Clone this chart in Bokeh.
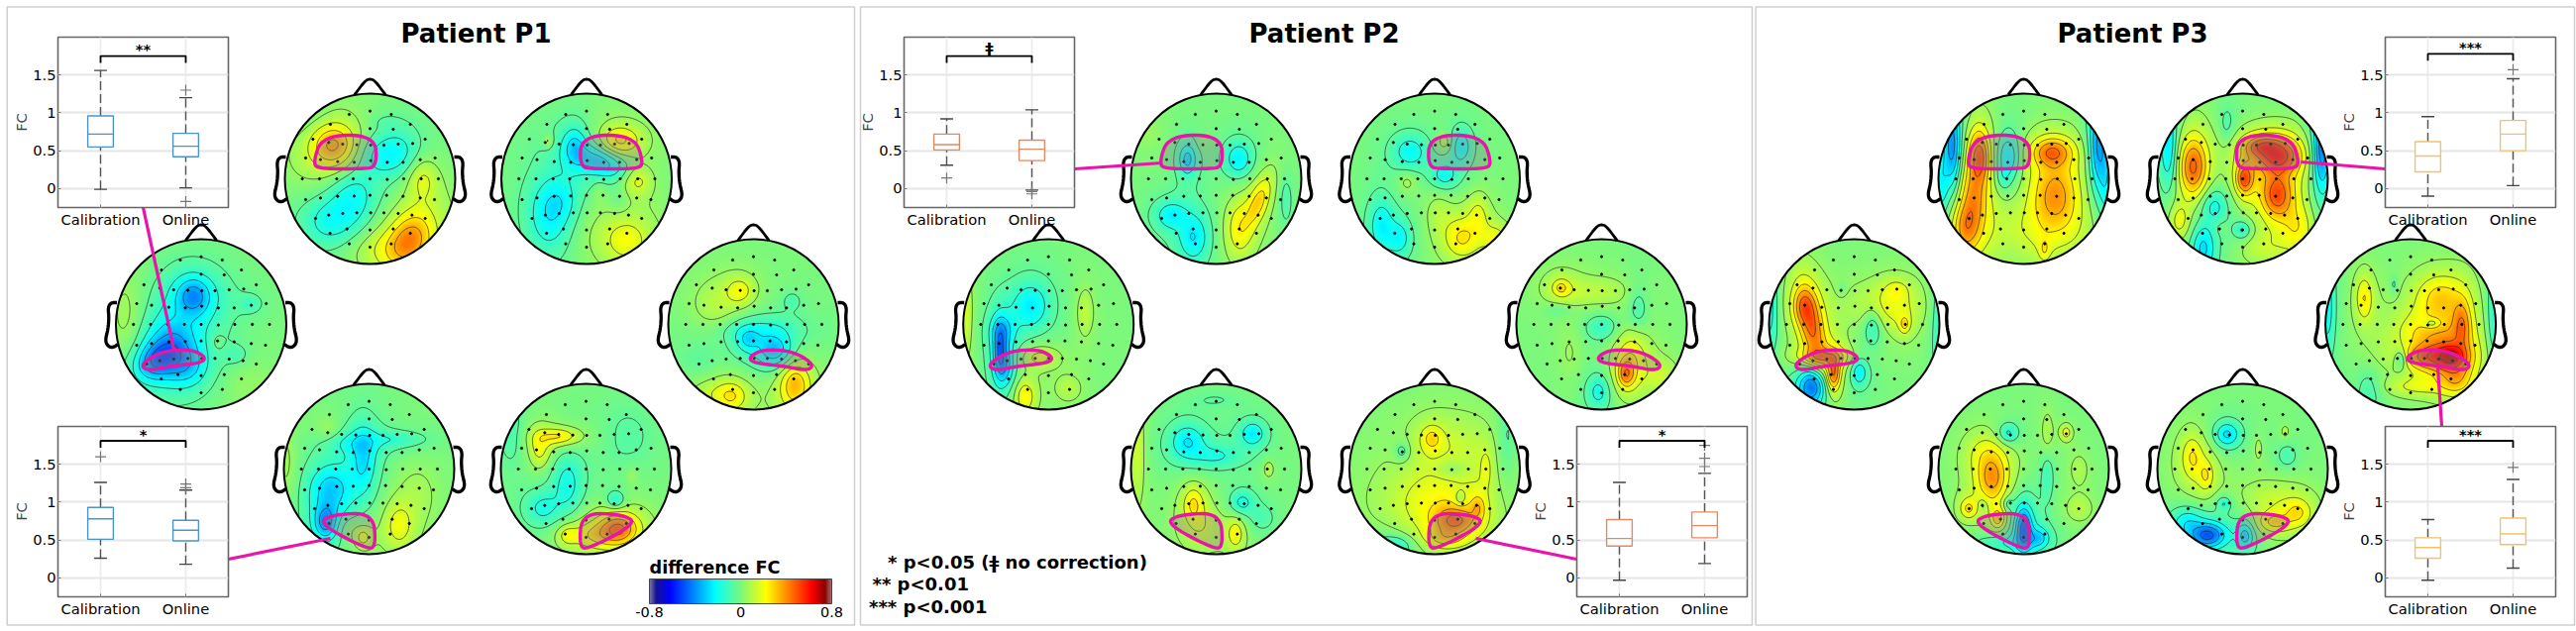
import numpy as np
from bokeh.plotting import figure
from bokeh.embed import file_html
from bokeh.resources import INLINE
from bokeh.models import (Range1d, LinearColorMapper, FixedTicker, ColorBar)

FONT = "DejaVu Sans"
CATS = ["Calibration", "Online"]
PATIENTS = ["Patient P1", "Patient P2", "Patient P3"]
TICKS = [0, 0.5, 1, 1.5]
LEGEND_LINES = ["* p<0.05 (\u01c2 no correction)", "** p<0.01", "*** p<0.001"]

# box stats: low whisker, q1, median, q3, high whisker
P1T_BOX = [[-0.01, 0.55, 0.72, 0.96, 1.56], [0.01, 0.42, 0.56, 0.73, 1.20]]
P1T_OUT = [[], [1.30, -0.17]]
P1B_BOX = [[0.26, 0.51, 0.78, 0.93, 1.26], [0.18, 0.49, 0.63, 0.76, 1.16]]
P1B_OUT = [[1.60], [1.24, 1.19]]
P2T_BOX = [[0.31, 0.51, 0.58, 0.72, 0.92], [-0.02, 0.37, 0.52, 0.64, 1.04]]
P2T_OUT = [[0.14], [-0.04, -0.07]]
P2B_BOX = [[-0.03, 0.42, 0.52, 0.77, 1.26], [0.19, 0.53, 0.69, 0.87, 1.38]]
P2B_OUT = [[], [1.75, 1.58, 1.47]]
P3T_BOX = [[-0.10, 0.22, 0.43, 0.62, 0.95], [0.04, 0.50, 0.72, 0.90, 1.45]]
P3T_OUT = [[], [1.57]]
P3B_BOX = [[-0.03, 0.26, 0.40, 0.53, 0.77], [0.13, 0.44, 0.58, 0.79, 1.30]]
P3B_OUT = [[], [1.46]]

# topography features, one list per scalp map:
# (dx, dy, FC difference, spread x, spread y[, angle]) in pixels from the head centre
P1_A = [(-37,-34,.42,14,13),(-45,-5,.08,25,30),(12,-24,-.2,18,13),(30,-30,-.1,12,14),(53,0,.18,9,13),
        (-40,43,-.22,18,16),(-18,17,-.2,14,16),(40,62,.42,12,17,25),(15,70,.12,25,12),(-62,-63,-.08,15,20),
        (15,-58,-.04,8,4)]
P1_B = [(33,-38,.32,12,9),(16,-17,-.35,17,9,20),(-12,-33,-.22,7,12),(51,2,.22,9,9),(-37,37,-.25,13,22),
        (-25,23,-.1,10,12),(41,63,.17,12,12),(13,13,.05,4,7),(-39,-38,.12,3,4),(33,23,-.06,6,8),(20,55,.07,30,20)]
P1_C = [(-8,-29,-.33,10,11),(-5,-26,-.1,20,16),(50,-21,-.1,6,5),(-44,36,-.42,14,10,-30),(-30,20,-.25,15,18),
        (-14,43,-.2,12,12),(-75,0,.1,10,30),(36,31,-.08,7,6),(17,18,.08,3,4),(47,60,.05,15,15)]
P1_D = [(-14,-34,.2,8,8),(-39,-17,.1,14,16),(39,-24,-.08,5,5),(22,27,-.35,11,10),(-6,16,-.2,7,7),(5,5,-.12,25,8),
        (42,61,.38,9,14),(-22,73,.22,9,9),(-39,70,.1,15,8),(-55,36,-.06,12,10)]
P1_E = [(-6,-10,-.25,8,20),(-39,20,-.28,13,15),(-44,54,-.4,7,10),(28,-30,-.12,18,5),(-17,-26,-.1,15,6),
        (30,57,.2,9,14),(-6,69,.2,5,6),(-22,60,.08,8,8),(50,24,.06,12,18),(-83,-3,.08,6,25),(-42,-41,.08,7,7)]
P1_F = [(-28,-33,.28,12,5),(-47,-20,.2,6,11),(-19,14,-.18,9,18),(-44,40,-.17,10,10),(30,32,-.2,5,5),
        (33,60,.5,11,9),(8,67,.2,14,8),(-19,67,.18,6,6),(42,-33,-.07,15,18),(-75,-36,-.1,8,18),(47,7,.06,3,5)]
P2_A = [(23,-20,-.25,8,10),(-29,-20,-.3,5,9),(-12,-37,.05,4,4),(43,23,.3,6,16,20),(23,50,.2,8,16),
        (-23,60,-.25,9,14),(-46,37,-.22,9,8),(70,20,-.1,4,15),(-69,-47,.05,8,10)]
P2_B = [(-25,-27,-.22,10,10),(27,-33,-.22,6,10),(10,-3,-.2,8,8),(10,-37,.15,4,5),(-28,3,.1,6,7),(27,60,.25,10,12),
        (44,37,.15,6,12),(4,33,.08,8,15),(62,60,.18,8,8),(-54,47,-.22,7,15),(-36,60,-.2,7,10)]
P2_C = [(-18,-19,-.25,11,14),(-47,6,-.2,7,9),(-49,26,-.4,4,15),(-44,43,-.25,6,12),(37,-12,.12,5,14),(-24,73,.25,6,10),
        (20,65,.1,8,8),(-9,33,.2,10,6),(-84,-10,.15,4,25)]
P2_D = [(-41,-37,.2,4,4),(-41,-37,.08,12,12),(-3,-33,.1,22,9),(-44,-15,-.08,8,4),(37,-17,-.12,6,14),(0,3,-.15,10,8),
        (-3,68,-.2,7,10),(25,50,.42,5,8),(31,30,.2,10,16),(60,53,.12,10,10),(-32,27,.06,7,18)]
P2_E = [(-29,-28,-.25,10,10),(37,-36,-.25,7,7),(0,-13,-.15,15,7),(-23,35,.25,6,10),(-14,60,.12,13,14),(20,65,.22,5,9),
        (26,34,-.2,7,7),(46,50,-.08,8,8),(53,0,.12,3,5),(-80,-20,.15,4,30),(0,-70,-.05,15,5)]
P2_F = [(-3,-31,.22,6,7),(21,-13,.12,28,25),(-33,-18,-.15,4,5),(18,0,-.12,9,6),(26,30,-.15,3,4),(44,39,.2,4,7),
        (21,52,.42,12,8),(10,70,.2,12,6),(-2,33,.15,30,20),(-42,77,-.2,12,6),(73,-26,-.1,6,25),(52,0,.12,3,10)]
P3_A = [(-72,-33,-.45,5,25),(75,-33,-.4,5,25),(-83,7,-.2,4,20),(83,0,-.2,4,25),(-45,-23,.55,6,15),(-51,20,.3,8,20),
        (-59,50,.35,8,15),(-16,-23,-.3,7,13),(-21,0,-.12,5,8),(29,-27,.45,11,8),(32,17,.4,14,20),(16,53,.1,40,18),
        (21,72,.15,3,6)]
P3_B = [(-75,-33,-.3,5,25),(80,-30,-.5,5,25),(-50,-12,.55,8,17),(37,-23,.65,12,10),(19,-33,.45,10,6),(2,0,.55,5,9),
        (35,17,.55,9,13),(-16,-53,-.1,5,12),(-64,43,.2,6,10),(-40,70,-.3,7,14),(-29,27,-.2,8,10),(0,52,-.2,5,5),
        (-21,50,.05,4,4),(56,50,.2,10,15),(20,70,.1,15,10)]
P3_C = [(-85,-20,-.2,4,30),(85,0,-.15,4,30),(-43,3,.5,7,22,-10),(-51,-19,.3,6,10),(32,-17,.2,20,15),(43,-35,.12,7,6),
        (51,0,.22,3,5),(19,1,-.2,6,12),(5,48,-.25,5,8),(-21,50,.5,4,10),(-32,33,.35,14,5),(-43,63,-.55,8,11),
        (-13,-37,-.08,2,3)]
P3_D = [(-84,-17,-.22,4,25),(84,-10,-.18,4,30),(-47,-27,.25,5,13),(30,-27,.28,14,14),(22,7,.25,20,12),(22,-1,-.22,5,3),
        (41,33,.6,8,7),(20,33,.5,16,7),(52,0,.35,5,14),(-10,35,-.25,4,6),(4,63,.15,20,6),(46,56,.25,10,10),
        (-42,65,-.12,8,12),(-17,-40,-.1,2,5)]
P3_E = [(-32,10,.4,9,14),(-37,-16,.15,12,12),(-16,-36,-.22,6,6),(43,-37,.22,3,4),(-56,40,.25,5,6),(-41,37,-.12,2,3),
        (-26,50,.3,4,6),(0,60,-.55,5,13),(-21,74,-.15,15,5),(16,70,-.25,6,6),(-16,35,-.15,3,4),(24,7,-.12,4,16),
        (56,40,.1,8,8),(56,0,.08,6,10),(24,-36,.1,4,14)]
P3_F = [(-16,-35,-.3,7,7),(-51,-13,.2,6,12),(-37,7,.18,4,8),(-45,0,.08,15,22),(-35,67,-.55,10,7),(-56,54,-.2,9,9),
        (-19,35,-.18,4,4),(3,67,-.3,5,8),(32,54,.25,10,6),(56,44,.22,8,8),(30,30,.1,20,12),(43,-38,.12,2,3),
        (16,-21,.1,2,6),(45,-13,-.1,6,7)]
MAPS = [[P1_A, P1_B, P1_C, P1_D, P1_E, P1_F], [P2_A, P2_B, P2_C, P2_D, P2_E, P2_F], [P3_A, P3_B, P3_C, P3_D, P3_E, P3_F]]
SPREAD = 1.1
HALO_WEIGHT = .3
HALO_SIZE = 2.0

# layout (pixels of the reference)
HEAD_X = [[373, 591.5, 202.5, 760, 372, 591], [1227, 1447.5, 1057.7, 1616, 1227, 1447.5], [2042, 2263, 1871, 2432.6, 2042, 2263]]
HEAD_Y = [180, 180, 327, 327, 473, 473]
R = 86
W, H = 2600, 637
def U(y):
    return H - np.asarray(y, dtype=float)

ELECTRODES = [(245,135),(308,125),(372,135),(188,165),(308,178),(378,180),(430,165),
 (135,210),(183,220),(225,225),(268,227),(310,228),(350,228),(393,225),(437,223),(475,210),
 (113,267),(158,272),(210,278),(260,280),(310,275),(360,280),(408,280),(460,272),(505,267),
 (103,330),(155,330),(207,330),(257,330),(308,330),(360,332),(410,330),(463,330),(515,330),
 (113,393),(158,388),(210,383),(260,382),(308,380),(358,380),(408,383),(460,388),(503,393),
 (143,450),(183,440),(225,435),(268,433),(310,433),(350,433),(393,435),(435,440),(475,450),
 (187,495),(238,482),(308,485),(378,482),(430,495),(245,527),(308,537),(372,527)]
ELEC_DX = [(a - 308) / 3 for a, b in ELECTRODES]
ELEC_DY = [(b - 330) / 3 for a, b in ELECTRODES]

ROI_FRONT = [(-48,-44),(5,-44),(7,-12),(-8,-10),(-50,-10),(-58,-15)]
ROI_MID = [(-61,40),(-40,27),(-10,25),(5,33),(0,39),(-30,42),(-55,47)]
ROI_OCC = [(-38,46),(4,44),(7,78),(-2,81),(-51,55)]
def mirror(pts):
    return [(-a, b) for a, b in pts]
ROIS = [ROI_FRONT, mirror(ROI_FRONT), ROI_MID, mirror(ROI_MID), ROI_OCC, mirror(ROI_OCC)]
NOSE = [(-15.5,-85),(-5,-99),(0,-101),(5,-99),(15.5,-85)]
EAR = [(-85,-22),(-91,-22),(-94,-17),(-93,-7),(-94,5),(-97,17),(-93,23),(-88,23),(-84,20)]

def chaikin(pts, n=3, closed=True):
    pts = [tuple(p) for p in pts]
    for _ in range(n):
        out = []
        m = len(pts)
        rng = range(m) if closed else range(m - 1)
        if not closed:
            out.append(pts[0])
        for i in rng:
            a, b = np.array(pts[i]), np.array(pts[(i + 1) % m])
            out.append(tuple(.75 * a + .25 * b))
            out.append(tuple(.25 * a + .75 * b))
        if not closed:
            out.append(pts[-1])
        pts = out
    return pts

def field(blobs, n):
    g = np.linspace(-R - .5, R + .5, n)
    dx, dyup = np.meshgrid(g, g)
    dy = -dyup
    z = np.zeros_like(dx)
    for b in blobs:
        x0, y0, a, sx, sy = b[:5]
        sx, sy = sx * SPREAD, sy * SPREAD
        t = np.deg2rad(b[5]) if len(b) > 5 else 0.0
        u = (dx - x0) * np.cos(t) + (dy - y0) * np.sin(t)
        v = -(dx - x0) * np.sin(t) + (dy - y0) * np.cos(t)
        q2 = (u / sx) ** 2 + (v / sy) ** 2
        z += a * ((1 - HALO_WEIGHT) * np.exp(-.5 * q2) + HALO_WEIGHT * np.exp(-.5 * q2 / HALO_SIZE ** 2))
    z = .8 * np.tanh(z / .8)
    return g, z, dx ** 2 + dy ** 2 <= (R + .5) ** 2

# jet with the faded ends seen on the reference colour bar
anch = [(0, (120,120,165)), (.035, (20,20,150)), (.11, (0,0,255)), (.36, (0,255,255)), (.5, (122,248,125)),
        (.64, (255,255,0)), (.89, (255,0,0)), (.965, (140,0,0)), (1, (165,110,110))]
ps = [a[0] for a in anch]
palette = []
for t in np.linspace(0, 1, 256):
    rgb = [int(round(np.interp(t, ps, [a[1][k] for a in anch]))) for k in range(3)]
    palette.append("#%02x%02x%02x" % tuple(rgb))
mapper = LinearColorMapper(palette=palette, low=-.8, high=.8, nan_color=(0, 0, 0, 0))

p = figure(width=W, height=H, x_range=Range1d(0, W), y_range=Range1d(0, H), x_axis_location=None, y_axis_location=None,
           toolbar_location=None, output_backend="svg", min_border=0, outline_line_color=None,
           styles={"position": "absolute", "left": "0px", "top": "0px"})
p.grid.visible = False

# panels
PANEL_L, PANEL_R = [6.7, 868, 1771.6], [862, 1768, 2598]
PANEL_T, PANEL_B = 6.5, 630.5
p.quad(left=PANEL_L, right=PANEL_R, top=list(U([PANEL_T] * 3)), bottom=list(U([PANEL_B] * 3)),
       fill_color=None, line_color="#cfcfcf", line_width=1.5)
TITLE_X = [480, 1336, 2152]
p.text(x=TITLE_X, y=list(U([33] * 3)), text=PATIENTS, text_font={"value": FONT}, text_font_style="bold",
       text_font_size="26px", text_align="center", text_baseline="middle", text_color="black")

levels = [round(-.75 + .1 * i, 2) for i in range(16)]
for hx, maps in zip(HEAD_X, MAPS):
    for cx, cy, blobs, roi in zip(hx, HEAD_Y, maps, ROIS):
        cu = float(U(cy))
        g, z, inside = field(blobs, 174)
        img = np.where(inside, z, np.nan)
        p.image(image=[img], x=cx - R - .5, y=cu - R - .5, dw=2 * R + 1, dh=2 * R + 1, color_mapper=mapper)
        g2, z2, ins2 = field(blobs, 100)
        zm = np.ma.masked_array(z2, ~ins2)
        p.contour(cx + g2, cu + g2, zm, levels, line_color="#222222", line_width=.8, line_alpha=.8)
        p.scatter(x=[cx + a for a in ELEC_DX], y=[cu - a for a in ELEC_DY], size=2.2, color="black")
        rp = chaikin(roi)
        p.patch(x=[cx + a for a, b in rp], y=[cu - b for a, b in rp], fill_color="#8a8a8a", fill_alpha=.38,
                line_color="#ea14a8", line_width=3.4, line_join="round")
        p.circle(x=[cx], y=[cu], radius=R, fill_color=None, line_color="black", line_width=2)
        ns = chaikin(NOSE, 2, closed=False)
        p.line(x=[cx + a for a, b in ns], y=[cu - b for a, b in ns], line_color="black", line_width=2.8, line_join="round")
        for sgn in (1, -1):
            es = chaikin(EAR, 2, closed=False)
            p.line(x=[cx + sgn * a for a, b in es], y=[cu - b for a, b in es], line_color="black", line_width=3.3, line_join="round")

# connectors
CONN_X0 = [144, 230, 1084, 1590.8, 2322, 2460]
CONN_X1 = [175, 333, 1172, 1489, 2407, 2464]
CONN_Y0 = [209, 564, 170, 564, 163, 370]
CONN_Y1 = [352, 543, 164, 543, 170, 430]
p.segment(x0=CONN_X0, x1=CONN_X1, y0=list(U(CONN_Y0)), y1=list(U(CONN_Y1)), line_color="#ea14a8", line_width=3.2)

# significance key
for s, x0, y0 in zip(LEGEND_LINES, [895.5, 880, 876.5], [567, 589, 612]):
    p.text(x=[x0], y=[float(U(y0))], text=[s], text_font={"value": FONT}, text_font_style="bold", text_font_size="18px",
           text_align="left", text_baseline="middle", text_color="black")

# colour bar
cb = ColorBar(color_mapper=mapper, location=(655, 12), width=184, height=25, orientation="horizontal", padding=0,
              ticker=FixedTicker(ticks=[-.8, 0, .8]), major_label_overrides={-.8: "-0.8", 0: "0", .8: "0.8"},
              major_label_text_font=FONT, major_label_text_font_size="14.5px", major_label_text_color="black",
              major_tick_line_color=None, minor_tick_line_color=None, bar_line_color="#444444", bar_line_width=1,
              title="difference FC", title_text_font=FONT, title_text_font_style="bold", title_text_font_size="17.7px",
              title_text_color="black", title_standoff=4, background_fill_alpha=0, border_line_color=None,
              label_standoff=3, title_text_align="center")
p.add_layout(cb)

def inset(fl, ft, boxes, outs, color, stars, bracket, star_y):
    L, RR, T, B, F = 52, 6, 4, 26, 172
    q = figure(frame_width=F, frame_height=F, x_range=Range1d(.5, 2.5), y_range=Range1d(-.25, 2.0), toolbar_location=None,
               output_backend="svg", min_border_left=L, min_border_right=RR, min_border_top=T, min_border_bottom=B,
               border_fill_alpha=0, background_fill_color="white", outline_line_color="#666666", outline_line_width=1.6,
               width=L + F + RR, height=T + F + B,
               styles={"position": "absolute", "left": f"{round(fl - L)}px", "top": f"{round(ft - T)}px"})
    q.xaxis.ticker = FixedTicker(ticks=[1, 2])
    q.xaxis.major_label_overrides = {1: CATS[0], 2: CATS[1]}
    q.yaxis.ticker = FixedTicker(ticks=TICKS)
    q.yaxis.major_label_overrides = {0: "0", .5: "0.5", 1: "1", 1.5: "1.5"}
    q.axis.major_label_text_font = FONT
    q.axis.major_label_text_font_size = "14.7px"
    q.axis.major_label_text_color = "black"
    q.axis.axis_line_color = None
    q.axis.major_tick_in = 3
    q.axis.major_tick_out = 0
    q.axis.major_tick_line_color = "#777777"
    q.axis.minor_tick_line_color = None
    q.xaxis.major_label_standoff = 3
    q.yaxis.major_label_standoff = 2
    q.yaxis.axis_label = "FC"
    q.yaxis.axis_label_text_font = FONT
    q.yaxis.axis_label_text_font_style = "normal"
    q.yaxis.axis_label_text_font_size = "14.7px"
    q.yaxis.axis_label_standoff = 0
    q.ygrid.grid_line_color = "#e6e6e6"
    q.ygrid.grid_line_width = 1.8
    q.xgrid.grid_line_color = "#ececec"
    q.xgrid.grid_line_width = 1.8
    xs = [1, 2]
    lo, q1, med, q3, hi = [[b[i] for b in boxes] for i in range(5)]
    q.segment(x0=xs, x1=xs, y0=lo, y1=q1, line_color="#555555", line_width=1.4, line_dash="9 4")
    q.segment(x0=xs, x1=xs, y0=q3, y1=hi, line_color="#555555", line_width=1.4, line_dash="9 4")
    for vals in (lo, hi):
        q.vbar(x=xs, width=.15, top=vals, bottom=vals, line_color="#444444", line_width=1.4, fill_color=None)
    q.vbar(x=xs, width=.3, top=q3, bottom=q1, fill_color="white", line_color=color, line_width=1.4)
    q.vbar(x=xs, width=.3, top=med, bottom=med, fill_color=None, line_color=color, line_width=1.4)
    ox = [x for x, o in zip(xs, outs) for _ in o]
    oy = [v for o in outs for v in o]
    if oy:
        q.scatter(x=ox, y=oy, marker="cross", size=11, line_color="#777777", line_width=1.2, fill_color=None)
    q.line(x=[1, 1, 2, 2], y=[bracket - .09, bracket, bracket, bracket - .09], line_color="black", line_width=1.8)
    q.text(x=[1.5], y=[star_y], text=[stars], text_font={"value": FONT}, text_font_size="14.7px", text_align="center",
           text_baseline="middle", text_color="black", text_font_style="bold")
    return q

BLUE, ORANGE, YELLOW = "#4b93c9", "#e08a62", "#eec46a"
insets = [
    inset(58.3, 36.7, P1T_BOX, P1T_OUT, BLUE, "**", 1.75, 1.84),
    inset(58.3, 430, P1B_BOX, P1B_OUT, BLUE, "*", 1.81, 1.90),
    inset(911.5, 36.7, P2T_BOX, P2T_OUT, ORANGE, "\u01c2", 1.75, 1.87),
    inset(1590.8, 430, P2B_BOX, P2B_OUT, ORANGE, "*", 1.81, 1.90),
    inset(2407, 36.7, P3T_BOX, P3T_OUT, YELLOW, "***", 1.78, 1.87),
    inset(2407, 430, P3B_BOX, P3B_OUT, YELLOW, "***", 1.81, 1.90),
]

open("out.html", "w").write(file_html([p] + insets, INLINE))
